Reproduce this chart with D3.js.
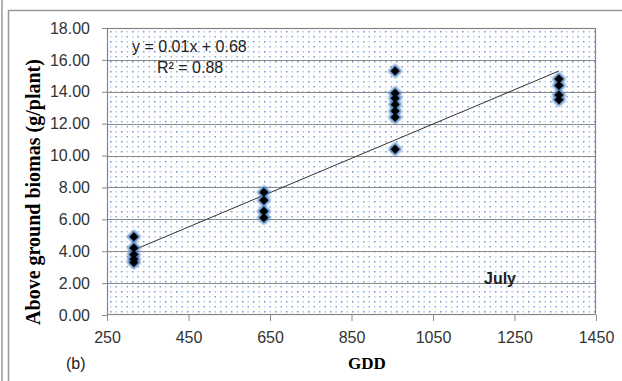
<!DOCTYPE html>
<html><head><meta charset="utf-8">
<script src="https://cdn.jsdelivr.net/npm/d3@7"></script>
<style>body{margin:0;background:#fff}svg{display:block}</style>
</head><body>
<script>
const gddLevels = [316, 635, 957, 1359];
const biomass316 = [4.9, 4.2, 3.8, 3.5, 3.3];
const biomass635 = [7.7, 7.2, 6.5, 6.1];
const biomass957 = [15.3, 13.9, 13.6, 13.2, 12.8, 12.4, 10.4];
const biomass1359 = [14.8, 14.4, 13.8, 13.5];
const xTicks = [250, 450, 650, 850, 1050, 1250, 1450];
const yTicks = [0, 2, 4, 6, 8, 10, 12, 14, 16, 18];
const trendSlope = 0.01076, trendIntercept = 0.68;
const trendRange = [316, 1359];
const equationText = "y = 0.01x + 0.68";
const r2Text = "R² = 0.88";

const groups = [biomass316, biomass635, biomass957, biomass1359];
const points = [];
groups.forEach((g, i) => g.forEach(v => points.push({x: gddLevels[i], y: v})));

const W = 622, H = 381;
const m = {l: 107, r: 596, t: 28, b: 315};
const svg = d3.select("body").append("svg").attr("width", W).attr("height", H);
const defs = svg.append("defs");
const pat = defs.append("pattern").attr("id", "dots").attr("patternUnits", "userSpaceOnUse")
  .attr("width", 11).attr("height", 10).attr("x", m.l + 2).attr("y", m.t + 2);
pat.append("rect").attr("width", 11).attr("height", 10).attr("fill", "#fff");
[[1,1,"#6b93cf"],[6.5,1,"#b3c8e8"],[1,6,"#bcd0ec"],[6.5,6,"#7aa0d6"]].forEach(d =>
  pat.append("rect").attr("x", d[0]).attr("y", d[1]).attr("width", 1.5).attr("height", 1.5).attr("fill", d[2]));
const blur = defs.append("filter").attr("id", "glow").attr("x", "-50%").attr("y", "-50%").attr("width", "200%").attr("height", "200%");
blur.append("feGaussianBlur").attr("stdDeviation", 0.9);

// outer frame
svg.append("line").attr("x1", 2).attr("x2", 2).attr("y1", 0).attr("y2", H).attr("stroke", "#999").attr("stroke-width", 1.5);
svg.append("path").attr("d", `M8.5,${H} V10.5 H${W}`).attr("fill", "none").attr("stroke", "#999").attr("stroke-width", 1.5);

const x = d3.scaleLinear().domain([250, 1450]).range([m.l, m.r]);
const y = d3.scaleLinear().domain([0, 18]).range([m.b, m.t]);

svg.append("rect").attr("x", m.l).attr("y", m.t).attr("width", m.r - m.l).attr("height", m.b - m.t).attr("fill", "url(#dots)");

// grid
svg.append("g").selectAll("line").data(yTicks.filter(v => v > 0 && v < 18)).join("line")
  .attr("x1", m.l).attr("x2", m.r).attr("y1", d => Math.round(y(d)) + 0.5).attr("y2", d => Math.round(y(d)) + 0.5)
  .attr("stroke", "#8a8a8a").attr("stroke-width", 1);

// axes
const sans = "Liberation Sans, Arial, sans-serif";
const yAxis = svg.append("g").attr("transform", `translate(${m.l},0)`)
  .call(d3.axisLeft(y).tickValues(yTicks).tickFormat(d3.format(".2f")).tickSize(5).tickPadding(12));
const xAxis = svg.append("g").attr("transform", `translate(0,${m.b})`)
  .call(d3.axisBottom(x).tickValues(xTicks).tickFormat(d3.format("d")).tickSize(6).tickPadding(11));
[yAxis, xAxis].forEach(a => {
  a.select(".domain").remove();
  a.selectAll(".tick line").attr("stroke", "#8a8a8a");
  a.selectAll("text").attr("font-family", sans).attr("font-size", 16).attr("fill", "#333");
});
svg.append("rect").attr("x", m.l + 0.5).attr("y", m.t + 0.5).attr("width", m.r - m.l - 1).attr("height", m.b - m.t - 1)
  .attr("fill", "none").attr("stroke", "#868686").attr("stroke-width", 1.2);

// trendline
svg.append("line").attr("x1", x(trendRange[0])).attr("y1", y(trendSlope * trendRange[0] + trendIntercept))
  .attr("x2", x(trendRange[1])).attr("y2", y(trendSlope * trendRange[1] + trendIntercept))
  .attr("stroke", "#333").attr("stroke-width", 1);

// markers
const diamond = s => `M0,${-s} L${s},0 L0,${s} L${-s},0 Z`;
const pg = svg.append("g");
pg.selectAll("path.halo").data(points).join("path").attr("class", "halo")
  .attr("transform", d => `translate(${x(d.x)},${y(d.y)})`).attr("d", diamond(7))
  .attr("fill", "#4a7ebb").attr("filter", "url(#glow)");
pg.selectAll("path.core").data(points).join("path").attr("class", "core")
  .attr("transform", d => `translate(${x(d.x)},${y(d.y)})`).attr("d", diamond(4.5))
  .attr("fill", "#000");

// texts
svg.append("text").attr("x", 132).attr("y", 52).text(equationText).attr("font-family", sans).attr("font-size", 16).attr("fill", "#222");
svg.append("text").attr("x", 157).attr("y", 73).text(r2Text).attr("font-family", sans).attr("font-size", 16).attr("fill", "#222");
svg.append("text").attr("x", 484).attr("y", 284).text("July").attr("font-family", sans).attr("font-size", 16).attr("font-weight", "bold").attr("fill", "#222");
svg.append("text").attr("x", 66).attr("y", 369).text("(b)").attr("font-family", sans).attr("font-size", 16).attr("fill", "#222");
svg.append("text").attr("x", 367).attr("y", 369).attr("text-anchor", "middle").text("GDD")
  .attr("font-family", "Liberation Serif, Times New Roman, serif").attr("font-size", 17).attr("font-weight", "bold");
svg.append("text").attr("transform", "translate(40,192) rotate(-90)").attr("text-anchor", "middle")
  .text("Above ground biomas (g/plant)")
  .attr("font-family", "Liberation Serif, Times New Roman, serif").attr("font-size", 20).attr("font-weight", "bold");
</script>
</body></html>
